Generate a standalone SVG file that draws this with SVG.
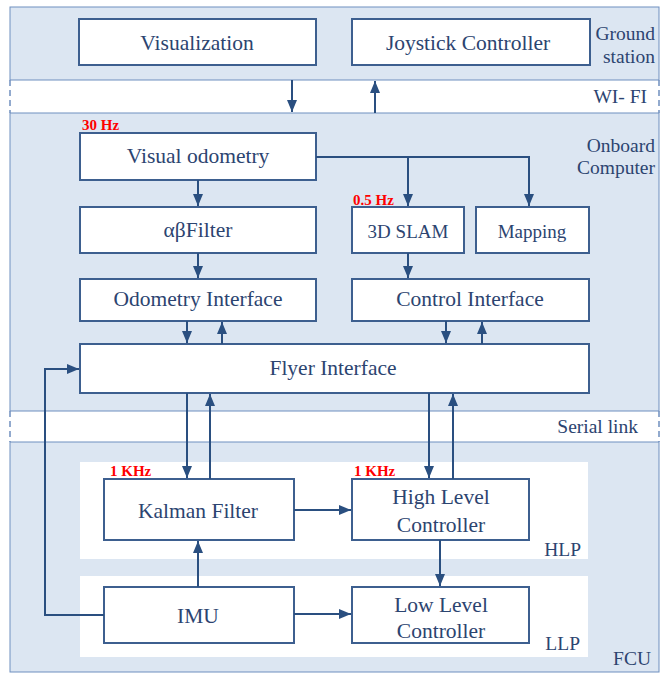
<svg xmlns="http://www.w3.org/2000/svg" width="662" height="675" viewBox="0 0 662 675">
<defs>
<marker id="ah" viewBox="0 0 12 10" refX="12" refY="5" markerWidth="12" markerHeight="10" markerUnits="userSpaceOnUse" orient="auto">
<path d="M0,0 L12,5 L0,10 z" fill="#2a4f80"/>
</marker>
<style>
.panel{fill:#dce6f2;stroke:#6f8fbf;stroke-width:1}
.dash{stroke:#6f8fbf;stroke-width:1.5;stroke-dasharray:6,4;fill:none}
.white{fill:#ffffff;stroke:none}
.box{fill:#ffffff;stroke:#3d5f8f;stroke-width:2}
.t{font-family:"Liberation Serif","Times New Roman",serif;font-size:21.5px;fill:#2c4470;text-anchor:middle}
.s{font-size:19px}
.lab{font-family:"Liberation Serif","Times New Roman",serif;font-size:19.5px;fill:#2c4470;text-anchor:end}
.hz{font-family:"Liberation Serif","Times New Roman",serif;font-size:15px;font-weight:bold;fill:#ff0000}
.c{fill:none;stroke:#2a4f80;stroke-width:2}
</style>
</defs>

<g id="panels">
<rect class="panel" x="10" y="7" width="649" height="73"/>
<line class="dash" x1="10" y1="80" x2="10" y2="113"/>
<line class="dash" x1="659" y1="80" x2="659" y2="113"/>
<rect class="panel" x="10" y="113" width="649" height="298"/>
<line class="dash" x1="10" y1="411" x2="10" y2="442"/>
<line class="dash" x1="659" y1="411" x2="659" y2="442"/>
<rect class="panel" x="10" y="442" width="649" height="230"/>
<rect class="white" x="80" y="462" width="508" height="97"/>
<rect class="white" x="80" y="576" width="508" height="81"/>
<text class="lab" x="655" y="40">Ground</text>
<text class="lab" x="655" y="63">station</text>
<text class="lab" x="647" y="103">WI- FI</text>
<text class="lab" x="655" y="152">Onboard</text>
<text class="lab" x="655" y="174">Computer</text>
<text class="lab" x="638" y="433">Serial link</text>
<text class="lab" x="581" y="556">HLP</text>
<text class="lab" x="580" y="650">LLP</text>
<text class="lab" x="651" y="665">FCU</text>
<text class="hz" x="82" y="130">30 Hz</text>
<text class="hz" x="353" y="205">0.5 Hz</text>
<text class="hz" x="110" y="476">1 KHz</text>
<text class="hz" x="354" y="476">1 KHz</text>
</g>

<g id="visualization"><rect class="box" x="79" y="19" width="237" height="46"/><text class="t" x="197" y="50">Visualization</text></g>
<g id="joystick"><rect class="box" x="352" y="19" width="238" height="46"/><text class="t" x="468" y="50">Joystick Controller</text></g>
<g id="visual-odometry"><rect class="box" x="80" y="133" width="236" height="47"/><text class="t" x="198" y="163">Visual odometry</text></g>
<g id="ab-filter"><rect class="box" x="80" y="207" width="236" height="46"/><text class="t" x="198" y="237">αβFilter</text></g>
<g id="slam"><rect class="box" x="352" y="207" width="112" height="46"/><text class="t s" x="408" y="238">3D SLAM</text></g>
<g id="mapping"><rect class="box" x="476" y="207" width="113" height="46"/><text class="t s" x="532" y="238">Mapping</text></g>
<g id="odometry-interface"><rect class="box" x="80" y="279" width="236" height="42"/><text class="t" x="198" y="306">Odometry Interface</text></g>
<g id="control-interface"><rect class="box" x="352" y="279" width="237" height="42"/><text class="t" x="470" y="306">Control Interface</text></g>
<g id="flyer-interface"><rect class="box" x="80" y="344" width="509" height="49"/><text class="t" x="333" y="375">Flyer Interface</text></g>
<g id="kalman"><rect class="box" x="104" y="479" width="190" height="61"/><text class="t" x="198" y="518">Kalman Filter</text></g>
<g id="hlc"><rect class="box" x="352" y="479" width="177" height="61"/><text class="t" x="441" y="504">High Level</text><text class="t" x="441" y="532">Controller</text></g>
<g id="imu"><rect class="box" x="104" y="587" width="190" height="56"/><text class="t" x="198" y="623">IMU</text></g>
<g id="llc"><rect class="box" x="352" y="587" width="177" height="56"/><text class="t" x="441" y="612">Low Level</text><text class="t" x="441" y="638">Controller</text></g>

<g id="connectors">
<line class="c" x1="292" y1="80" x2="292" y2="112" marker-end="url(#ah)"/>
<line class="c" x1="375" y1="113" x2="375" y2="81" marker-end="url(#ah)"/>
<line class="c" x1="198" y1="180" x2="198" y2="206" marker-end="url(#ah)"/>
<polyline class="c" points="316,157 529,157 529,206" marker-end="url(#ah)"/>
<line class="c" x1="408" y1="157" x2="408" y2="206" marker-end="url(#ah)"/>
<line class="c" x1="198" y1="253" x2="198" y2="278" marker-end="url(#ah)"/>
<line class="c" x1="408" y1="253" x2="408" y2="278" marker-end="url(#ah)"/>
<line class="c" x1="187" y1="321" x2="187" y2="343" marker-end="url(#ah)"/>
<line class="c" x1="222" y1="344" x2="222" y2="322" marker-end="url(#ah)"/>
<line class="c" x1="446" y1="321" x2="446" y2="343" marker-end="url(#ah)"/>
<line class="c" x1="482" y1="344" x2="482" y2="322" marker-end="url(#ah)"/>
<line class="c" x1="187" y1="393" x2="187" y2="478" marker-end="url(#ah)"/>
<line class="c" x1="210" y1="479" x2="210" y2="394" marker-end="url(#ah)"/>
<line class="c" x1="429" y1="393" x2="429" y2="478" marker-end="url(#ah)"/>
<line class="c" x1="453" y1="479" x2="453" y2="394" marker-end="url(#ah)"/>
<line class="c" x1="294" y1="510" x2="351" y2="510" marker-end="url(#ah)"/>
<line class="c" x1="198" y1="587" x2="198" y2="541" marker-end="url(#ah)"/>
<line class="c" x1="440" y1="540" x2="440" y2="586" marker-end="url(#ah)"/>
<line class="c" x1="294" y1="614" x2="351" y2="614" marker-end="url(#ah)"/>
<polyline class="c" points="104,615 45,615 45,369 79,369" marker-end="url(#ah)"/>
</g>
</svg>
